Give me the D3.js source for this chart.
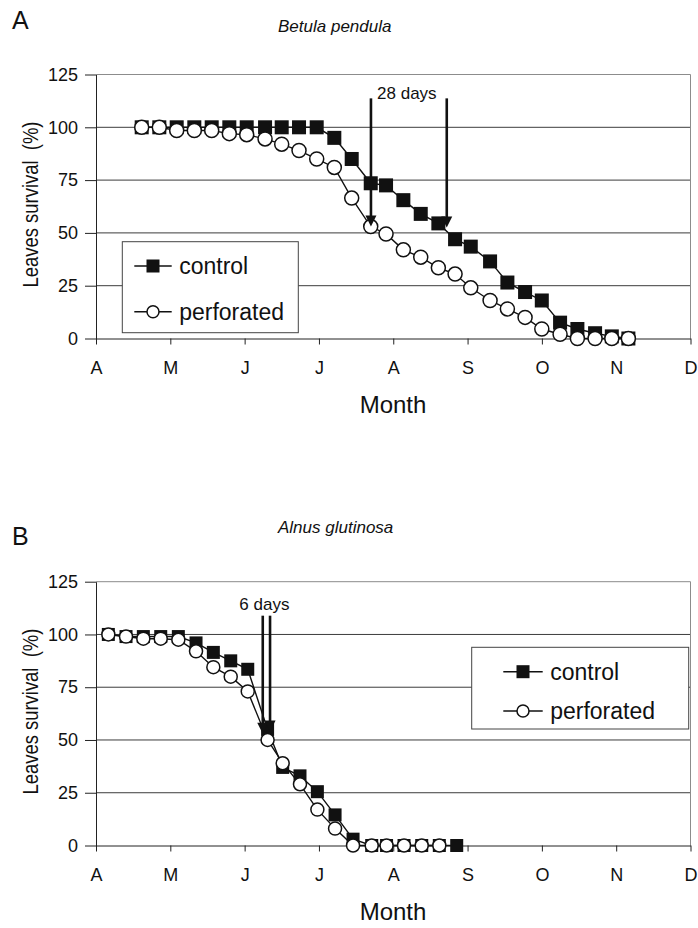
<html>
<script src="https://cdn.jsdelivr.net/npm/d3@7"></script>
<style>
body { margin: 0; background: #fff; }
text { font-family: "Liberation Sans", Arial, sans-serif; fill: #111; }
</style>
<body>
<div id="chart"></div>
<script>
// month labels on the x axis (0 = start of April)
var months = ["A", "M", "J", "J", "A", "S", "O", "N", "D"];
var yTicks = [0, 25, 50, 75, 100, 125];
var seriesNames = ["control", "perforated"];

// Betula pendula - time in months since 1 April
var betulaTime = [0.615, 0.852, 1.086, 1.323, 1.557, 1.794, 2.028, 2.275, 2.499, 2.732, 2.970, 3.207, 3.441, 3.697, 3.903,
  4.136, 4.370, 4.607, 4.832, 5.043, 5.303, 5.536, 5.774, 5.999, 6.245, 6.478, 6.716, 6.941, 7.164];
var betulaControl = [100, 100, 100, 100, 100, 100, 100, 100, 100, 100, 100, 95, 85, 73.5, 72.5,
  65.5, 59, 54.5, 47, 43.5, 36.5, 26.5, 22, 18, 7.5, 4.5, 2.5, 1, 0];
var betulaPerforated = [100, 100, 98.5, 98.5, 98.5, 97, 96.5, 94.5, 92, 89, 85, 81, 66.5, 53, 49.5,
  42, 38.5, 33.5, 30.5, 24, 18, 14, 10, 4.5, 2, 0, 0, 0, 0];
var betulaArrows = [[3.70, 113.7, 53], [4.72, 113.7, 52.5]];   // [time, from, to]
var betulaGap = "28 days";

// Alnus glutinosa
var alnusTime = [0.166, 0.404, 0.637, 0.871, 1.108, 1.346, 1.579, 1.813, 2.042, 2.309, 2.512, 2.745, 2.979, 3.217,
  3.459, 3.710, 3.910, 4.145, 4.383, 4.620, 4.854];
var alnusControl = [100, 99, 99, 99, 99, 96, 91.5, 87.5, 83.5, 55, 37, 33, 25.5, 14.5, 3, 0, 0, 0, 0, 0, 0];
var alnusPerforated = [100, 99, 98, 98, 97.5, 92, 84.5, 80, 73, 50, 39, 29, 17, 8, 0, 0, 0, 0, 0, 0];
var alnusArrows = [[2.244, 108.9, 53], [2.342, 108.9, 54]];
var alnusGap = "6 days";

var svg = d3.select("#chart").append("svg")
  .attr("width", 698)
  .attr("height", 928);

var x = d3.scaleLinear().domain([0, 8]).range([96, 690.5]);

function drawPanel(p) {
  var g = svg.append("g");
  var y = d3.scaleLinear().domain([0, 125]).range([p.bottom, p.top]);

  // horizontal grid + top border
  g.selectAll("line.grid")
    .data(yTicks.filter(function(d) { return d > 0; }))
    .enter().append("line")
    .attr("class", "grid")
    .attr("x1", x(0)).attr("x2", x(8))
    .attr("y1", function(d) { return y(d); })
    .attr("y2", function(d) { return y(d); })
    .attr("stroke", function(d) { return d == 125 ? "#8c8c8c" : "#3c3c3c"; })
    .attr("stroke-width", 1);

  g.append("line")
    .attr("x1", x(8)).attr("x2", x(8))
    .attr("y1", y(125)).attr("y2", y(0))
    .attr("stroke", "#8c8c8c");

  // axes
  var yAxis = d3.axisLeft(y).tickValues(yTicks).tickSize(11).tickPadding(7).tickSizeOuter(0);
  var ya = g.append("g").attr("transform", "translate(" + x(0) + ",0)").call(yAxis);
  ya.selectAll("text").style("font-size", "18px").style("font-family", "Liberation Sans, Arial, sans-serif");

  var xAxis = d3.axisBottom(x).tickValues(d3.range(9))
    .tickFormat(function(d, i) { return months[i]; })
    .tickSize(6).tickSizeOuter(0);
  var xa = g.append("g").attr("transform", "translate(0," + y(0) + ")").call(xAxis);
  xa.selectAll("text").attr("y", 23).attr("dy", "0.71em")
    .style("font-size", "18px").style("font-family", "Liberation Sans, Arial, sans-serif");
  g.selectAll(".domain, .tick line").attr("stroke", "#222");

  // series
  var ctrl = d3.zip(p.time, p.control);
  var perf = d3.zip(p.time.slice(0, p.perforated.length), p.perforated);
  var line = d3.line()
    .x(function(d) { return x(d[0]); })
    .y(function(d) { return y(d[1]); });

  g.append("path").datum(ctrl).attr("d", line)
    .attr("fill", "none").attr("stroke", "#111").attr("stroke-width", 1.4);
  g.selectAll("rect.ctrl").data(ctrl).enter().append("rect")
    .attr("class", "ctrl")
    .attr("x", function(d) { return x(d[0]) - p.sq / 2; })
    .attr("y", function(d) { return y(d[1]) - p.sq / 2; })
    .attr("width", p.sq).attr("height", p.sq)
    .attr("fill", "#111");

  g.append("path").datum(perf).attr("d", line)
    .attr("fill", "none").attr("stroke", "#111").attr("stroke-width", 1.4);
  g.selectAll("circle.perf").data(perf).enter().append("circle")
    .attr("class", "perf")
    .attr("cx", function(d) { return x(d[0]); })
    .attr("cy", function(d) { return y(d[1]); })
    .attr("r", p.r)
    .attr("fill", "#fff").attr("stroke", "#111").attr("stroke-width", 1.5);

  // arrows
  var arr = g.selectAll("g.arrow").data(p.arrows).enter().append("g").attr("class", "arrow");
  arr.append("line")
    .attr("x1", function(d) { return x(d[0]); })
    .attr("x2", function(d) { return x(d[0]); })
    .attr("y1", function(d) { return y(d[1]); })
    .attr("y2", function(d) { return y(d[2]) - 8; })
    .attr("stroke", "#111").attr("stroke-width", 2.6);
  arr.append("path")
    .attr("d", function(d) {
      var ax = x(d[0]), ay = y(d[2]);
      return "M" + (ax - 5.5) + "," + (ay - 11) + "L" + (ax + 5.5) + "," + (ay - 11) + "L" + ax + "," + ay + "Z";
    })
    .attr("fill", "#111");
  g.append("text")
    .attr("x", (x(p.arrows[0][0]) + x(p.arrows[1][0])) / 2 - 2)
    .attr("y", y(p.gapY))
    .attr("text-anchor", "middle")
    .style("font-size", "17px")
    .text(p.gap);

  // legend
  var lg = g.append("g");
  lg.append("rect")
    .attr("x", p.legend[0]).attr("y", p.legend[1])
    .attr("width", p.legend[2]).attr("height", p.legend[3])
    .attr("fill", "#fff").attr("stroke", "#444").attr("stroke-width", 1);
  var rows = lg.selectAll("g.row").data(seriesNames).enter().append("g")
    .attr("transform", function(d, i) { return "translate(0," + p.legendRows[i] + ")"; });
  rows.append("line")
    .attr("x1", p.legendLine[0]).attr("x2", p.legendLine[1])
    .attr("y1", 0).attr("y2", 0)
    .attr("stroke", "#111").attr("stroke-width", 1.4);
  var mx = (p.legendLine[0] + p.legendLine[1]) / 2;
  rows.filter(function(d) { return d == "control"; }).append("rect")
    .attr("x", mx - 6.5).attr("y", -6.5).attr("width", 13).attr("height", 13)
    .attr("fill", "#111");
  rows.filter(function(d) { return d == "perforated"; }).append("circle")
    .attr("cx", mx).attr("cy", 0).attr("r", 6)
    .attr("fill", "#fff").attr("stroke", "#111").attr("stroke-width", 1.5);
  rows.append("text")
    .attr("x", p.legendLine[1] + 7.5)
    .attr("y", 0).attr("dy", "0.36em")
    .style("font-size", "23px")
    .text(function(d) { return d; });

  // labels
  g.append("text").attr("x", 12).attr("y", p.letterY)
    .style("font-size", "25px").text(p.letter);
  g.append("text").attr("x", 278).attr("y", p.titleY)
    .style("font-size", "17px").style("font-style", "italic").text(p.title);
  g.append("text")
    .attr("transform", "translate(37.5," + ((p.top + p.bottom) / 2 - 2) + ") rotate(-90)")
    .attr("text-anchor", "middle")
    .attr("textLength", 166).attr("lengthAdjust", "spacingAndGlyphs")
    .style("font-size", "22px")
    .text("Leaves survival\u00a0\u00a0(%)");
  g.append("text").attr("x", 393).attr("y", p.bottom + 74.5)
    .attr("text-anchor", "middle")
    .style("font-size", "24px").text("Month");
}

drawPanel({
  top: 74.5, bottom: 338.5, letter: "A", letterY: 28.5, title: "Betula pendula", titleY: 31.7,
  time: betulaTime, control: betulaControl, perforated: betulaPerforated,
  arrows: betulaArrows, gap: betulaGap, gapY: 113.5,
  sq: 14, r: 7,
  legend: [122.3, 241.7, 176, 91], legendRows: [266, 311.7], legendLine: [134.3, 171.7]
});

drawPanel({
  top: 581.7, bottom: 845.5, letter: "B", letterY: 545, title: "Alnus glutinosa", titleY: 533.3,
  time: alnusTime, control: alnusControl, perforated: alnusPerforated,
  arrows: alnusArrows, gap: alnusGap, gapY: 111.7,
  sq: 13, r: 6.5,
  legend: [471.7, 647.3, 217, 81.7], legendRows: [671.7, 711], legendLine: [503.3, 542.7]
});
</script>
</body>
</html>
